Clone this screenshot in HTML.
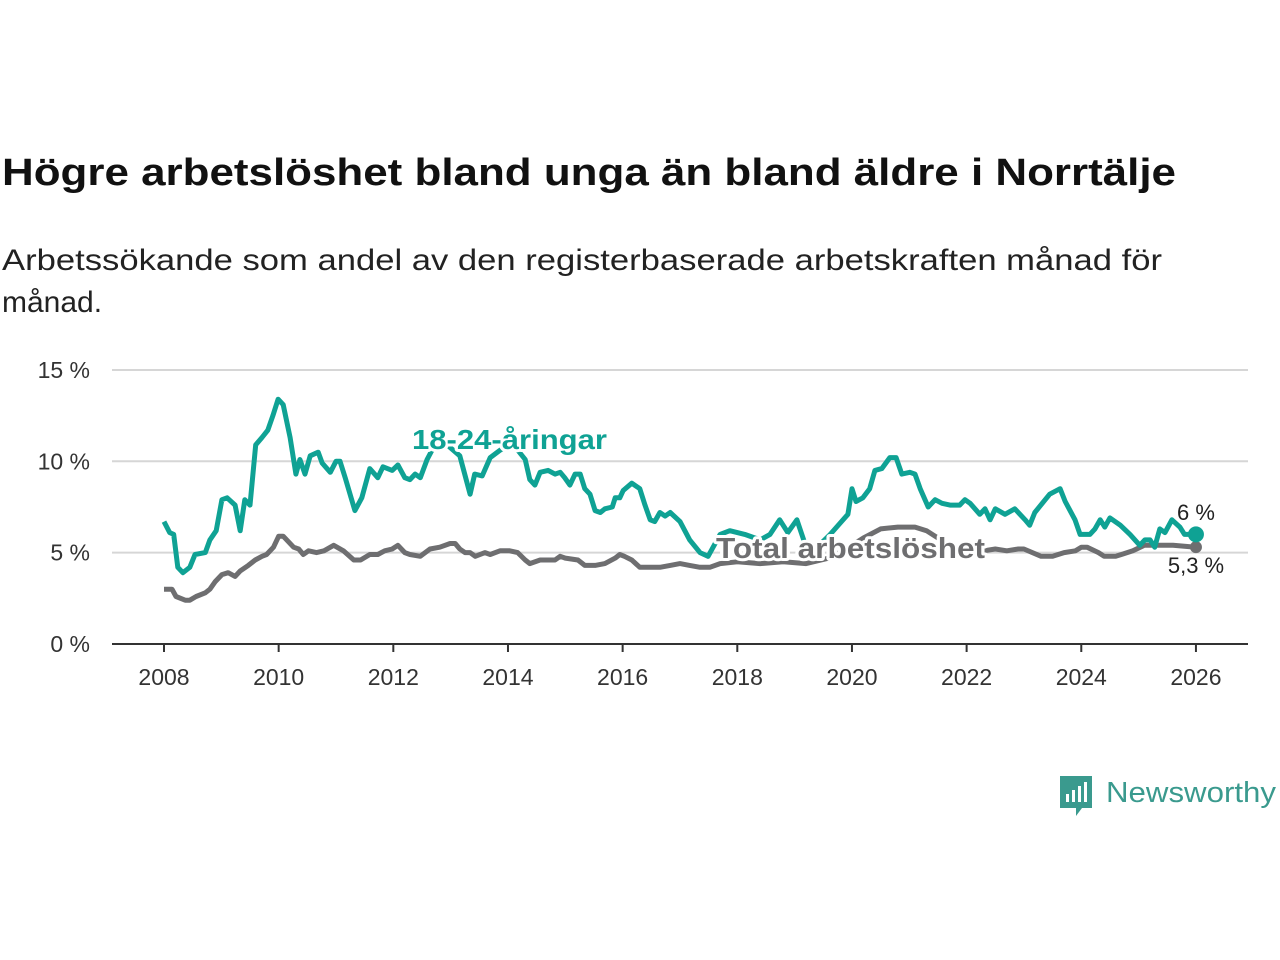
<!DOCTYPE html>
<html><head><meta charset="utf-8"><style>
html,body{margin:0;padding:0;background:#fff;}
svg{display:block;font-family:"Liberation Sans",sans-serif;}
</style></head><body>
<svg id="chart" width="1280" height="960" viewBox="0 0 1280 960">
<text x="2" y="185" font-size="38" font-weight="bold" fill="#111" textLength="1174" lengthAdjust="spacingAndGlyphs">Högre arbetslöshet bland unga än bland äldre i Norrtälje</text>
<text x="2" y="270" font-size="30" fill="#222" textLength="1160" lengthAdjust="spacingAndGlyphs">Arbetssökande som andel av den registerbaserade arbetskraften månad för</text>
<text x="2" y="312" font-size="30" fill="#222">månad.</text>
<g id="grid"></g><g id="xaxis"></g><g id="series"></g><g id="labels"></g>
<g>
<path d="M1060 776h32v32h-10l-6 8v-8h-16z" fill="#3a9a8e"/>
<rect x="1066" y="794" width="3" height="8" fill="#fff"/><rect x="1072" y="790" width="3" height="12" fill="#fff"/><rect x="1078" y="786" width="3" height="16" fill="#fff"/><rect x="1084" y="782" width="3" height="20" fill="#fff"/>
<text x="1106" y="802" font-size="29" fill="#3a9a8e" textLength="170" lengthAdjust="spacingAndGlyphs">Newsworthy</text>
</g>
</svg>
<script>
const youthDates=[2008.00,2008.10,2008.17,2008.24,2008.33,2008.45,2008.54,2008.72,2008.80,2008.91,2009.01,2009.10,2009.24,2009.33,2009.41,2009.50,2009.60,2009.71,2009.81,2009.90,2009.99,2010.08,2010.20,2010.30,2010.37,2010.46,2010.55,2010.69,2010.76,2010.90,2011.00,2011.07,2011.16,2011.33,2011.45,2011.59,2011.73,2011.82,2011.98,2012.08,2012.20,2012.29,2012.38,2012.47,2012.59,2012.69,2012.90,2013.16,2013.34,2013.42,2013.55,2013.69,2013.86,2014.07,2014.30,2014.38,2014.47,2014.56,2014.70,2014.82,2014.91,2014.99,2015.08,2015.17,2015.26,2015.34,2015.43,2015.52,2015.61,2015.69,2015.82,2015.87,2015.95,2016.01,2016.16,2016.30,2016.39,2016.48,2016.56,2016.65,2016.74,2016.83,2017.00,2017.17,2017.35,2017.49,2017.70,2017.87,2018.13,2018.40,2018.57,2018.74,2018.88,2019.04,2019.18,2019.36,2019.62,2019.79,2019.93,2020.00,2020.07,2020.19,2020.31,2020.40,2020.52,2020.66,2020.77,2020.87,2021.01,2021.10,2021.19,2021.33,2021.45,2021.57,2021.71,2021.88,2021.97,2022.06,2022.23,2022.32,2022.41,2022.50,2022.67,2022.84,2023.02,2023.10,2023.19,2023.37,2023.45,2023.63,2023.72,2023.89,2023.98,2024.15,2024.24,2024.33,2024.41,2024.50,2024.68,2024.85,2025.02,2025.11,2025.20,2025.28,2025.37,2025.46,2025.58,2025.72,2025.80,2026.00];
const youthValues=[6.7,6.1,6.0,4.2,3.9,4.2,4.9,5.0,5.7,6.2,7.9,8.0,7.6,6.2,7.9,7.6,10.9,11.3,11.7,12.5,13.4,13.1,11.3,9.3,10.1,9.3,10.3,10.5,9.9,9.4,10.0,10.0,9.1,7.3,8.0,9.6,9.1,9.7,9.5,9.8,9.1,9.0,9.3,9.1,10.1,10.7,11.0,10.3,8.2,9.3,9.2,10.2,10.6,11.0,10.1,9.0,8.7,9.4,9.5,9.3,9.4,9.1,8.7,9.3,9.3,8.5,8.2,7.3,7.2,7.4,7.5,8.0,8.0,8.4,8.8,8.5,7.6,6.8,6.7,7.2,7.0,7.2,6.7,5.7,5.0,4.8,6.0,6.2,6.0,5.7,6.0,6.8,6.1,6.8,5.5,5.2,6.0,6.6,7.1,8.5,7.8,8.0,8.5,9.5,9.6,10.2,10.2,9.3,9.4,9.3,8.5,7.5,7.9,7.7,7.6,7.6,7.9,7.7,7.1,7.4,6.8,7.4,7.1,7.4,6.8,6.5,7.2,7.9,8.2,8.5,7.8,6.8,6.0,6.0,6.3,6.8,6.4,6.9,6.5,6.0,5.4,5.7,5.7,5.3,6.3,6.1,6.8,6.4,6.0,6.0];
const totalDates=[2008.00,2008.14,2008.21,2008.37,2008.45,2008.56,2008.72,2008.80,2008.89,2009.01,2009.12,2009.24,2009.33,2009.47,2009.59,2009.71,2009.79,2009.91,2010.00,2010.08,2010.17,2010.26,2010.35,2010.43,2010.52,2010.66,2010.79,2010.96,2011.13,2011.31,2011.43,2011.59,2011.73,2011.85,2011.98,2012.08,2012.20,2012.29,2012.47,2012.64,2012.81,2012.99,2013.08,2013.16,2013.25,2013.34,2013.43,2013.60,2013.69,2013.86,2014.03,2014.17,2014.30,2014.38,2014.56,2014.70,2014.82,2014.91,2015.00,2015.22,2015.34,2015.52,2015.69,2015.87,2015.95,2016.03,2016.16,2016.30,2016.48,2016.65,2016.83,2017.00,2017.17,2017.35,2017.52,2017.70,2018.0,2018.4,2018.8,2019.2,2019.6,2019.9,2020.2,2020.5,2020.8,2021.1,2021.3,2021.6,2022.0,2022.3,2022.5,2022.7,2022.9,2023.0,2023.3,2023.5,2023.7,2023.9,2024.0,2024.1,2024.3,2024.4,2024.6,2024.7,2024.9,2025.1,2025.3,2025.4,2025.6,2026.0];
const totalValues=[3.0,3.0,2.6,2.4,2.4,2.6,2.8,3.0,3.4,3.8,3.9,3.7,4.0,4.3,4.6,4.8,4.9,5.3,5.9,5.9,5.6,5.3,5.2,4.9,5.1,5.0,5.1,5.4,5.1,4.6,4.6,4.9,4.9,5.1,5.2,5.4,5.0,4.9,4.8,5.2,5.3,5.5,5.5,5.2,5.0,5.0,4.8,5.0,4.9,5.1,5.1,5.0,4.6,4.4,4.6,4.6,4.6,4.8,4.7,4.6,4.3,4.3,4.4,4.7,4.9,4.8,4.6,4.2,4.2,4.2,4.3,4.4,4.3,4.2,4.2,4.4,4.5,4.4,4.5,4.4,4.7,5.2,5.8,6.3,6.4,6.4,6.2,5.6,5.1,5.1,5.2,5.1,5.2,5.2,4.8,4.8,5.0,5.1,5.3,5.3,5.0,4.8,4.8,4.9,5.1,5.4,5.4,5.4,5.4,5.3];
const yTicks=[0,5,10,15];
const yTickLabels=["0 %","5 %","10 %","15 %"];
const xTicks=[2008,2010,2012,2014,2016,2018,2020,2022,2024,2026];

const NS="http://www.w3.org/2000/svg";
const X=d=>164+(d-2008)*57.33;
const Y=v=>644-v*18.27;
function mk(tag,attrs,parent){const e=document.createElementNS(NS,tag);for(const k in attrs)e.setAttribute(k,attrs[k]);parent.appendChild(e);return e;}
const grid=document.getElementById('grid'),xa=document.getElementById('xaxis'),ser=document.getElementById('series'),lab=document.getElementById('labels');
yTicks.forEach((t,i)=>{
 if(t>0){const l=mk('line',{x1:112,x2:1248,y1:Y(t),y2:Y(t),stroke:'#d6d6d6','stroke-width':2},grid);
 
 }
 const tx=mk('text',{x:90,y:Y(t)+8,'text-anchor':'end','font-size':23,fill:'#333'},grid);
 tx.textContent=yTickLabels[i];
 
 
});
const ax=mk('line',{x1:112,x2:1248,y1:644,y2:644,stroke:'#333','stroke-width':2},xa);


xTicks.forEach(t=>{
 const tk=mk('line',{x1:X(t),x2:X(t),y1:644,y2:652,stroke:'#333','stroke-width':2},xa);
 
 
 const tx=mk('text',{x:X(t),y:685,'text-anchor':'middle','font-size':23,fill:'#333'},xa);
 tx.textContent=t;
 
 
});
function path(d,v){return d.map((x,i)=>(i?'L':'M')+X(x).toFixed(1)+' '+Y(v[i]).toFixed(1)).join('');}
const pt=mk('path',{d:path(totalDates,totalValues),fill:'none',stroke:'#6e6e70','stroke-width':5,'stroke-linejoin':'round'},ser);


const py=mk('path',{d:path(youthDates,youthValues),fill:'none',stroke:'#0fa294','stroke-width':5,'stroke-linejoin':'round'},ser);


const lastT=totalValues[totalValues.length-1],lastY=youthValues[youthValues.length-1],lastD=2026;
const c1=mk('circle',{cx:X(lastD),cy:Y(lastT),r:6,fill:'#6e6e70'},ser);


const c2=mk('circle',{cx:X(lastD),cy:Y(lastY),r:8,fill:'#0fa294'},ser);


function label(txt,x,y,size,fill,weight,anchor,name,len){
 const a={x:x,y:y,'font-size':size,fill:fill,'font-weight':weight,'text-anchor':anchor,stroke:'#fff','stroke-width':6,'paint-order':'stroke','stroke-linejoin':'round'};
 if(len){a.textLength=len;a.lengthAdjust='spacingAndGlyphs';}
 const t=mk('text',a,lab);
 t.textContent=txt;
 
 
}
label('18-24-åringar',412,449,28,'#0fa294','bold','start','youth-series-label',195);
label('Total arbetslöshet',716,558,29,'#6e6e70','bold','start','total-series-label',269);
label('6 %',1196,520,22,'#222','normal','middle','youth-end-value');
label('5,3 %',1196,573,22,'#222','normal','middle','total-end-value');
</script>
</body></html>
